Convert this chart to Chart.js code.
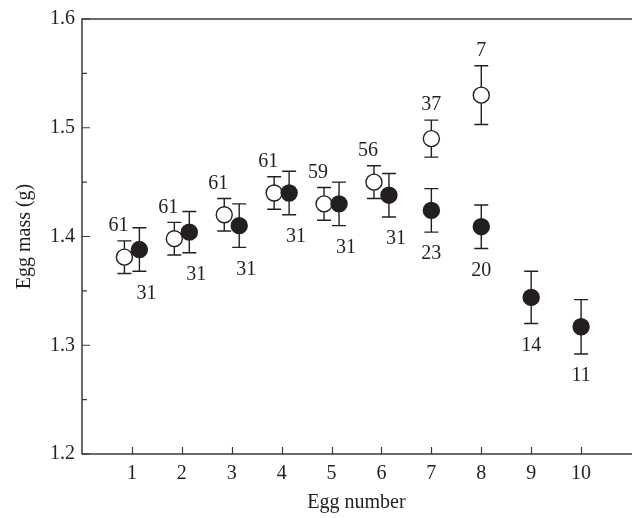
<!DOCTYPE html>
<html>
<head>
<meta charset="utf-8">
<script src="https://cdn.jsdelivr.net/npm/chart.js@4/dist/chart.umd.min.js"></script>
<style>
  html, body { margin: 0; padding: 0; background: #fff; }
  #wrap { width: 632px; height: 518px; }
</style>
</head>
<body>
<div id="wrap"><canvas id="c" width="632" height="518"></canvas></div>
<script>
// ---- data ----
const eggNumbers   = [1, 2, 3, 4, 5, 6, 7, 8, 9, 10];
const openMean     = [1.381, 1.398, 1.420, 1.440, 1.430, 1.450, 1.490, 1.530];
const openSE       = [0.015, 0.015, 0.015, 0.015, 0.015, 0.015, 0.017, 0.027];
const openN        = [61, 61, 61, 61, 59, 56, 37, 7];
const filledMean   = [1.388, 1.404, 1.410, 1.440, 1.430, 1.438, 1.424, 1.409, 1.344, 1.317];
const filledSE     = [0.020, 0.019, 0.020, 0.020, 0.020, 0.020, 0.020, 0.020, 0.024, 0.025];
const filledN      = [31, 31, 31, 31, 31, 31, 23, 20, 14, 11];
const yTicks       = [1.2, 1.3, 1.4, 1.5, 1.6];

// ---- styling ----
const INK = '#231f20';
const AXIS = '#3a3a3a';
const FONT = 'Liberation Serif';
const FS = 20;
const DODGE = 0.15;         // horizontal dodge for overlapping pairs
const DODGE_LAST = 6;       // pairs are dodged for eggs 1..6
const CAP = 7;

function xFor(egg, side) {
  return egg <= DODGE_LAST ? egg + side * DODGE : egg;
}

const openPts = openMean.map((v, i) => ({ x: xFor(eggNumbers[i], -1), y: v, se: openSE[i], n: openN[i] }));
const filledPts = filledMean.map((v, i) => ({ x: xFor(eggNumbers[i], 1), y: v, se: filledSE[i], n: filledN[i] }));

const errorBars = {
  id: 'errorBars',
  beforeDatasetsDraw(chart) {
    const { ctx, scales: { x, y } } = chart;
    ctx.save();
    ctx.strokeStyle = INK;
    ctx.lineWidth = 1.4;
    chart.data.datasets.forEach(ds => {
      ds.data.forEach(p => {
        const px = x.getPixelForValue(p.x);
        const yt = y.getPixelForValue(p.y + p.se);
        const yb = y.getPixelForValue(p.y - p.se);
        ctx.beginPath();
        ctx.moveTo(px, yt); ctx.lineTo(px, yb);
        ctx.moveTo(px - CAP, yt); ctx.lineTo(px + CAP, yt);
        ctx.moveTo(px - CAP, yb); ctx.lineTo(px + CAP, yb);
        ctx.stroke();
      });
    });
    ctx.restore();
  }
};

const nLabels = {
  id: 'nLabels',
  afterDatasetsDraw(chart) {
    const { ctx, scales: { x, y } } = chart;
    ctx.save();
    ctx.fillStyle = INK;
    ctx.font = FS + 'px "' + FONT + '"';
    ctx.textAlign = 'center';
    ctx.textBaseline = 'middle';
    chart.data.datasets.forEach(ds => {
      const isOpen = ds.label === 'open';
      ds.data.forEach((p, i) => {
        const dodged = eggNumbers[i] <= DODGE_LAST;
        const px = x.getPixelForValue(p.x) + (dodged ? (isOpen ? -6 : 7) : 0);
        const py = isOpen ? y.getPixelForValue(p.y + p.se) - 15
                          : y.getPixelForValue(p.y - p.se) + 22;
        ctx.fillText(String(p.n), px, py);
      });
    });
    ctx.restore();
  }
};

const frame = {
  id: 'frame',
  afterDraw(chart) {
    const { ctx, chartArea: a, scales: { x, y } } = chart;
    ctx.save();
    ctx.strokeStyle = AXIS;
    ctx.lineWidth = 1.5;
    ctx.beginPath();
    ctx.moveTo(a.right + 2, a.top); ctx.lineTo(a.left, a.top);
    ctx.lineTo(a.left, a.bottom); ctx.lineTo(a.right + 2, a.bottom);
    ctx.stroke();
    ctx.lineWidth = 1.2;
    ctx.beginPath();
    // x ticks (inward)
    eggNumbers.forEach(n => {
      const px = Math.round(x.getPixelForValue(n)) + 0.5;
      ctx.moveTo(px, a.bottom); ctx.lineTo(px, a.bottom - 7);
    });
    // y major & minor ticks (inward)
    yTicks.forEach((v, i) => {
      const py = y.getPixelForValue(v);
      ctx.moveTo(a.left, py); ctx.lineTo(a.left + 8, py);
      if (i < yTicks.length - 1) {
        const pm = y.getPixelForValue((v + yTicks[i + 1]) / 2);
        ctx.moveTo(a.left, pm); ctx.lineTo(a.left + 5, pm);
      }
    });
    ctx.stroke();
    ctx.restore();
  }
};

Chart.defaults.font.family = FONT;
Chart.defaults.font.size = FS;
Chart.defaults.color = INK;

new Chart(document.getElementById('c'), {
  type: 'scatter',
  data: {
    datasets: [
      { label: 'open', data: openPts, order: 2,
        pointRadius: 8, pointHoverRadius: 8, pointBackgroundColor: '#ffffff',
        pointBorderColor: INK, pointBorderWidth: 1.4, showLine: false },
      { label: 'filled', data: filledPts, order: 1,
        pointRadius: 8, pointHoverRadius: 8, pointBackgroundColor: INK,
        pointBorderColor: INK, pointBorderWidth: 1.4, showLine: false }
    ]
  },
  options: {
    responsive: false,
    animation: false,
    layout: { autoPadding: false, padding: { top: 19, right: 1, left: 0, bottom: 0 } },
    plugins: { legend: { display: false }, tooltip: { enabled: false } },
    scales: {
      x: {
        type: 'linear', min: 0, max: 11,
        grid: { display: false, drawTicks: false },
        border: { display: false },
        ticks: {
          stepSize: 1, padding: 8, autoSkip: false, maxRotation: 0,
          callback: v => (eggNumbers.includes(v) ? String(v) : '')
        },
        title: { display: true, text: 'Egg number', padding: { top: 0, bottom: 3 } },
        afterFit: s => { s.height = 64; s.paddingLeft = 0; s.paddingRight = 0; }
      },
      y: {
        type: 'linear', min: yTicks[0], max: yTicks[yTicks.length - 1],
        grid: { display: false, drawTicks: false },
        border: { display: false },
        ticks: {
          stepSize: 0.1, padding: 7,
          callback: v => v.toFixed(1)
        },
        title: { display: true, text: 'Egg mass (g)', padding: { top: 13, bottom: 0 } },
        afterFit: s => { s.width = 82; s.paddingTop = 0; s.paddingBottom = 0; }
      }
    }
  },
  plugins: [errorBars, nLabels, frame]
});
</script>
</body>
</html>
